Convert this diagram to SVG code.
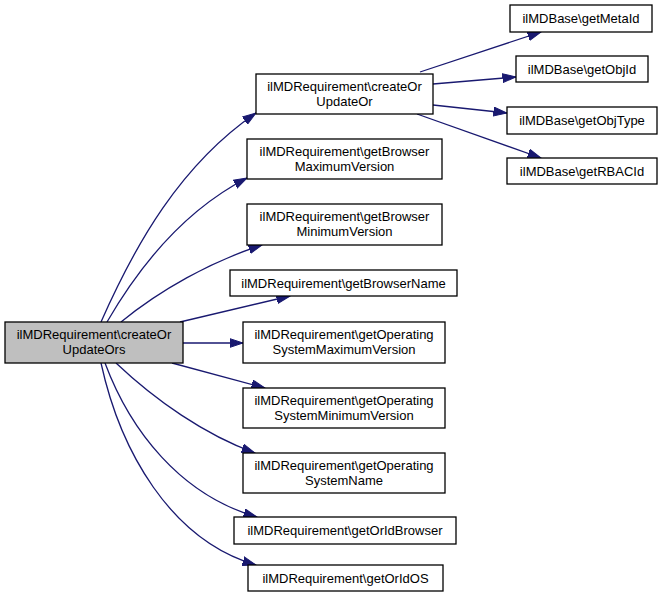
<svg xmlns="http://www.w3.org/2000/svg" width="663" height="601" viewBox="0 0 663 601">
<style>
.n rect{fill:#ffffff;stroke:#000000;stroke-width:1.3}
.root rect{fill:#bfbfbf}
.n text{font-family:"Liberation Sans",Arial,sans-serif;font-size:13px;fill:#000000;text-anchor:middle}
.e path{fill:none;stroke:#191970;stroke-width:1.3;marker-end:url(#ah)}
</style>
<defs>
<marker id="ah" markerUnits="userSpaceOnUse" markerWidth="14" markerHeight="10" viewBox="0 0 14 10" refX="13.5" refY="5" orient="auto">
<path d="M0,0.5 L13.5,5 L0,9.5 z" fill="#191970" stroke="#191970" stroke-width="1"/>
</marker>
</defs>
<rect width="663" height="601" fill="#ffffff"/>
<g id="connectors" class="e">
<path d="M101,322 C135,245 180,165 256,113"/>
<path d="M107,322 C140,265 185,210 247,178"/>
<path d="M121,322 C160,290 210,262 262,245"/>
<path d="M180,322 L290,296"/>
<path d="M183,343 L243,343"/>
<path d="M172,363 L265,388"/>
<path d="M116,363 C155,400 205,435 255,453"/>
<path d="M105,363 C130,430 180,495 257,517"/>
<path d="M101,363 C120,450 170,540 256,565"/>
<path d="M420,72 L541,32"/>
<path d="M433,84 L516,77"/>
<path d="M433,105 L507,113"/>
<path d="M417,114 L541,158"/>
</g>
<g id="node-root" class="n root">
<rect x="5" y="322" width="178" height="41"/>
<text x="94" y="339">ilMDRequirement\createOr</text>
<text x="94" y="354">UpdateOrs</text>
</g>
<g id="node-createOrUpdateOr" class="n">
<rect x="256" y="74" width="177" height="40"/>
<text x="344.5" y="91">ilMDRequirement\createOr</text>
<text x="344.5" y="106">UpdateOr</text>
</g>
<g id="node-getBrowserMaximumVersion" class="n">
<rect x="247" y="139" width="195" height="40"/>
<text x="344.5" y="156">ilMDRequirement\getBrowser</text>
<text x="344.5" y="171">MaximumVersion</text>
</g>
<g id="node-getBrowserMinimumVersion" class="n">
<rect x="247" y="204" width="195" height="41"/>
<text x="344.5" y="221">ilMDRequirement\getBrowser</text>
<text x="344.5" y="236">MinimumVersion</text>
</g>
<g id="node-getBrowserName" class="n">
<rect x="230" y="270" width="227" height="26"/>
<text x="343.5" y="287.5">ilMDRequirement\getBrowserName</text>
</g>
<g id="node-getOperatingSystemMaximumVersion" class="n">
<rect x="243" y="322" width="202" height="41"/>
<text x="344" y="339">ilMDRequirement\getOperating</text>
<text x="344" y="354">SystemMaximumVersion</text>
</g>
<g id="node-getOperatingSystemMinimumVersion" class="n">
<rect x="243" y="388" width="202" height="40"/>
<text x="344" y="405">ilMDRequirement\getOperating</text>
<text x="344" y="420">SystemMinimumVersion</text>
</g>
<g id="node-getOperatingSystemName" class="n">
<rect x="243" y="453" width="202" height="40"/>
<text x="344" y="470">ilMDRequirement\getOperating</text>
<text x="344" y="485">SystemName</text>
</g>
<g id="node-getOrIdBrowser" class="n">
<rect x="234" y="517" width="222" height="27"/>
<text x="345" y="535">ilMDRequirement\getOrIdBrowser</text>
</g>
<g id="node-getOrIdOS" class="n">
<rect x="248" y="565" width="195" height="26"/>
<text x="345.5" y="582.5">ilMDRequirement\getOrIdOS</text>
</g>
<g id="node-getMetaId" class="n">
<rect x="510" y="5" width="142" height="27"/>
<text x="581" y="23">ilMDBase\getMetaId</text>
</g>
<g id="node-getObjId" class="n">
<rect x="516" y="56" width="132" height="26"/>
<text x="582" y="73.5">ilMDBase\getObjId</text>
</g>
<g id="node-getObjType" class="n">
<rect x="507" y="107" width="150" height="27"/>
<text x="582" y="125">ilMDBase\getObjType</text>
</g>
<g id="node-getRBACId" class="n">
<rect x="507" y="158" width="150" height="26"/>
<text x="582" y="175.5">ilMDBase\getRBACId</text>
</g>
</svg>
